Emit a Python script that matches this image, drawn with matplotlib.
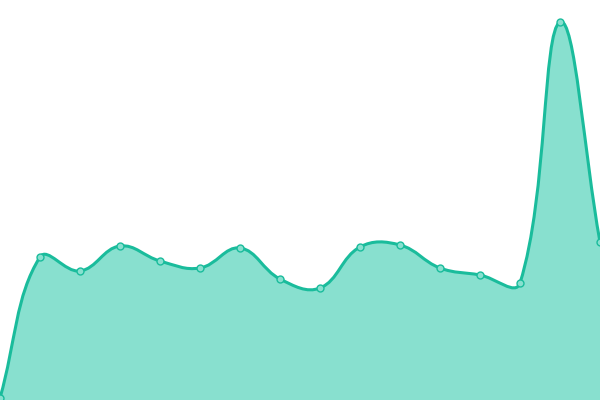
import numpy as np
import matplotlib
matplotlib.use("Agg")
import matplotlib.pyplot as plt
from matplotlib.path import Path
from matplotlib.patches import PathPatch

# data
labels = list(range(16))
values = [2, 143, 129, 154, 139, 132, 152, 121, 112, 153, 155, 132, 125, 117, 378, 158]

line_color = "#1abc9c"
fill_color = "#88e0cf"
tension = 0.4

xs = np.array(labels, dtype=float) * 40
ys = np.array(values, dtype=float)
pts = np.column_stack([xs, ys])
n = len(pts)

# chart.js style spline control points
cp_prev = pts.copy()
cp_next = pts.copy()
for i in range(n):
    prev = pts[i - 1] if i > 0 else pts[i]
    nxt = pts[i + 1] if i < n - 1 else pts[i]
    d01 = np.hypot(*(pts[i] - prev))
    d12 = np.hypot(*(nxt - pts[i]))
    tot = d01 + d12
    s01 = d01 / tot if tot else 0
    s12 = d12 / tot if tot else 0
    cp_prev[i] = pts[i] - tension * s01 * (nxt - prev)
    cp_next[i] = pts[i] + tension * s12 * (nxt - prev)
cp_prev[:, 1] = np.clip(cp_prev[:, 1], 0, 400)
cp_next[:, 1] = np.clip(cp_next[:, 1], 0, 400)

verts = [tuple(pts[0])]
codes = [Path.MOVETO]
for i in range(n - 1):
    verts += [tuple(cp_next[i]), tuple(cp_prev[i + 1]), tuple(pts[i + 1])]
    codes += [Path.CURVE4] * 3

fig = plt.figure(figsize=(6, 4), dpi=100)
ax = fig.add_axes([0, 0, 1, 1])
ax.set_xlim(0, 600)
ax.set_ylim(0, 400)
ax.axis("off")

fverts = verts + [(xs[-1], 0), (xs[0], 0), verts[0]]
fcodes = codes + [Path.LINETO, Path.LINETO, Path.CLOSEPOLY]
ax.add_patch(PathPatch(Path(fverts, fcodes), facecolor=fill_color, edgecolor="none"))
ax.add_patch(PathPatch(Path(verts, codes), facecolor="none", edgecolor=line_color, lw=2.2))
ax.plot(xs, ys, "o", ms=5, mfc=fill_color, mec=line_color, mew=1, clip_on=True)

fig.savefig("out.png", dpi=100)
